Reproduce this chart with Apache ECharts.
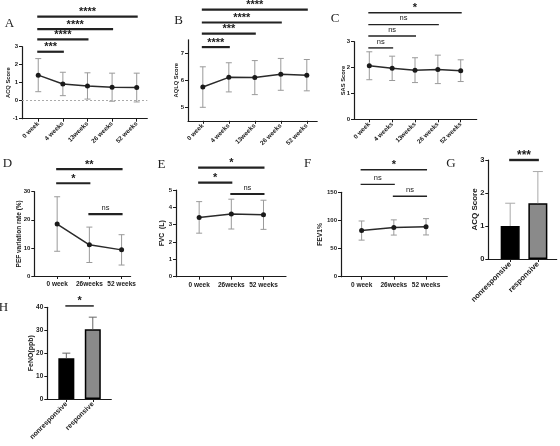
<!DOCTYPE html>
<html><head><meta charset="utf-8">
<script src="https://cdn.jsdelivr.net/npm/echarts@6/dist/echarts.min.js"></script>
<style>html,body{margin:0;padding:0;background:#fff}#c{width:560px;height:446px}</style>
</head><body><div id="c"></div>
<script>
// ---------- categories ----------
const weekLabels5 = ['0 week', '4 weeks', '13weeks', '26 weeks', '52 weeks'];
const weekLabels3 = ['0 week', '26weeks', '52 weeks'];
const groupLabels = ['nonresponsive', 'responsive'];

// ---------- series values (mean, SD) ----------
const acqMean = [1.42, 0.93, 0.82, 0.75, 0.73];
const acqSD = [0.92, 0.65, 0.73, 0.78, 0.80];
const aqlqMean = [5.75, 6.11, 6.10, 6.22, 6.19];
const aqlqSD = [0.75, 0.54, 0.63, 0.59, 0.58];
const sasMean = [2.07, 1.97, 1.90, 1.93, 1.88];
const sasSD = [0.54, 0.47, 0.48, 0.55, 0.42];
const pefMean = [18.5, 11.1, 9.3];
const pefSD = [9.7, 6.3, 5.4];
const fvcMean = [3.42, 3.61, 3.57];
const fvcSD = [0.91, 0.86, 0.84];
const fev1Mean = [82, 87.5, 88.7];
const fev1SD = [17, 13.5, 14.5];
const acqGroupMean = [1.0, 1.69];
const acqGroupSD = [0.69, 0.96];
const fenoMean = [17.8, 30.4];
const fenoSD = [2.2, 5.3];

// ---------- y tick labels ----------
const ticksA = [-1, 0, 1, 2, 3];
const ticksB = [5, 6, 7];
const ticksC = [0, 1, 2, 3];
const ticksD = [0, 10, 20, 30];
const ticksE = [0, 1, 2, 3, 4, 5];
const ticksF = [0, 50, 100, 150];
const ticksG = [0, 1, 2, 3];
const ticksH = [0, 10, 20, 30, 40];

// ---------- significance comparisons [from, to, bracket level (data units), label] ----------
const sigA = [[0, 1, 2.72, '***'], [0, 2, 3.41, '****'], [0, 3, 3.98, '****'], [0, 4, 4.67, '****']];
const sigB = [[0, 1, 7.23, '****'], [0, 2, 7.73, '***'], [0, 3, 8.14, '****'], [0, 4, 8.62, '****']];
const sigC = [[0, 1, 2.76, 'ns'], [0, 2, 3.22, 'ns'], [0, 3, 3.66, 'ns'], [0, 4, 4.12, '*']];
const sigD = [[0, 1, 33, '*'], [0, 2, 38, '**'], [1, 2, 22, 'ns']];
const sigE = [[0, 1, 5.42, '*'], [0, 2, 6.29, '*'], [1, 2, 4.77, 'ns']];
const sigF = [[0, 1, 164, 'ns'], [0, 2, 190, '*'], [1, 2, 143, 'ns']];
const sigG = [[0, 1, 3.0, '***']];
const sigH = [[0, 1, 40.6, '*']];

// ---------- build ----------
const FONT = '"Liberation Sans", Arial, sans-serif';
const INK = '#1a1a1a';

const panels = [
  { letter: 'A', lx: 9.5, ly: 23.5, kind: 'line', cats: weekLabels5, mean: acqMean, sd: acqSD, ticks: ticksA, sig: sigA,
    grid: { left: 22, top: 46.7, width: 125.3, height: 72 }, xr: [-0.66, 4.43], yr: [-1, 3],
    rot: 45, xfs: 6.3, yfs: 6, name: 'ACQ Score', nameGap: 11, nfs: 5.8, sigW: 2.2, sigFs: 11, cap: 3, zero: true },
  { letter: 'B', lx: 178.5, ly: 20.5, kind: 'line', cats: weekLabels5, mean: aqlqMean, sd: aqlqSD, ticks: ticksB, sig: sigB,
    grid: { left: 188, top: 39.8, width: 129.2, height: 81 }, xr: [-0.57, 4.4], yr: [4.5, 7.5],
    rot: 45, xfs: 6.3, yfs: 6, name: 'AQLQ Score', nameGap: 9, nfs: 5.8, sigW: 2.2, sigFs: 11, cap: 3 },
  { letter: 'C', lx: 335, ly: 19, kind: 'line', cats: weekLabels5, mean: sasMean, sd: sasSD, ticks: ticksC, sig: sigC,
    grid: { left: 354, top: 41.7, width: 122.7, height: 77.6 }, xr: [-0.67, 4.7], yr: [0, 3],
    rot: 45, xfs: 6.3, yfs: 6, name: 'SAS Score', nameGap: 8, nfs: 5.8, sigW: 1.4, sigFs: 11, cap: 3 },
  { letter: 'D', lx: 7.5, ly: 164, kind: 'line', cats: weekLabels3, mean: pefMean, sd: pefSD, ticks: ticksD, sig: sigD,
    grid: { left: 34.3, top: 191.7, width: 96.3, height: 84.3 }, xr: [-0.71, 2.28], yr: [0, 30],
    rot: 0, xfs: 6.5, yfs: 6, name: 'PEF variation rate (%)', nameGap: 11.5, nfs: 6.5, sigW: 2.2, sigFs: 11, cap: 3 },
  { letter: 'E', lx: 161.5, ly: 164.5, kind: 'line', cats: weekLabels3, mean: fvcMean, sd: fvcSD, ticks: ticksE, sig: sigE,
    grid: { left: 176, top: 190, width: 110, height: 86.7 }, xr: [-0.72, 2.7], yr: [0, 5],
    rot: 0, xfs: 6.5, yfs: 6, name: 'FVC  (L)', nameGap: 10.5, nfs: 6.8, sigW: 2.2, sigFs: 11, cap: 3 },
  { letter: 'F', lx: 307.5, ly: 164, kind: 'line', cats: weekLabels3, mean: fev1Mean, sd: fev1SD, ticks: ticksF, sig: sigF,
    grid: { left: 341, top: 192.3, width: 106.3, height: 84.4 }, xr: [-0.64, 2.66], yr: [0, 150],
    rot: 0, xfs: 6.5, yfs: 6, name: 'FEV1%', nameGap: 17, nfs: 6.8, sigW: 1.4, sigFs: 11, cap: 3 },
  { letter: 'G', lx: 451, ly: 164, kind: 'bar', cats: groupLabels, mean: acqGroupMean, sd: acqGroupSD, ticks: ticksG, sig: sigG,
    grid: { left: 488.3, top: 160, width: 68.4, height: 99 }, xr: [-0.79, 1.68], yr: [0, 3],
    rot: 45, xfs: 7.5, yfs: 7.5, name: 'ACQ Score', nameGap: 9.5, nfs: 8, sigW: 2.4, sigFs: 12, cap: 5, barW: 19, errColor: '#aaaaaa' },
  { letter: 'H', lx: 3.5, ly: 308, kind: 'bar', cats: groupLabels, mean: fenoMean, sd: fenoSD, ticks: ticksH, sig: sigH,
    grid: { left: 47.3, top: 307.3, width: 64, height: 91.7 }, xr: [-0.72, 1.7], yr: [0, 40],
    rot: 45, xfs: 7, yfs: 6.5, name: 'FeNO(ppb)', nameGap: 12.5, nfs: 7, sigW: 1.5, sigFs: 11, cap: 4, barW: 16, errColor: '#666666' }
];

const barColors = ['#000000', '#8a8a8a'];

function errSeries(gi, mean, sd, capHalf, color, upOnly) {
  return {
    type: 'custom', xAxisIndex: gi, yAxisIndex: gi, clip: false, silent: true, z: upOnly ? 4 : 2,
    data: mean.map((m, i) => [i, m, sd[i]]),
    encode: { x: 0, y: 1 },
    renderItem(params, api) {
      const x = api.value(0), m = api.value(1), s = api.value(2);
      const top = api.coord([x, m + s]);
      const bot = api.coord([x, upOnly ? m : m - s]);
      const st = { stroke: color, lineWidth: 1 };
      const ch = [
        { type: 'line', shape: { x1: top[0], y1: top[1], x2: bot[0], y2: bot[1] }, style: st },
        { type: 'line', shape: { x1: top[0] - capHalf, y1: top[1], x2: top[0] + capHalf, y2: top[1] }, style: st }
      ];
      if (!upOnly) ch.push({ type: 'line', shape: { x1: bot[0] - capHalf, y1: bot[1], x2: bot[0] + capHalf, y2: bot[1] }, style: st });
      return { type: 'group', children: ch };
    }
  };
}

function sigSeries(gi, sig, lw, fs) {
  return {
    type: 'custom', xAxisIndex: gi, yAxisIndex: gi, clip: false, silent: true, z: 6,
    data: sig.map(s => [s[0], s[1], s[2]]),
    encode: { x: [0, 1], y: 2 },
    renderItem(params, api) {
      const a = api.coord([api.value(0), api.value(2)]);
      const b = api.coord([api.value(1), api.value(2)]);
      const txt = sig[params.dataIndex][3];
      const ns = txt === 'ns';
      return {
        type: 'group', children: [
          { type: 'line', shape: { x1: a[0] - 1, y1: a[1], x2: b[0] + 1, y2: a[1] }, style: { stroke: '#222', lineWidth: lw } },
          { type: 'text', x: (a[0] + b[0]) / 2, y: a[1] - (ns ? 6.3 : 4.5),
            style: { text: txt, align: 'center', verticalAlign: 'middle', textAlign: 'center', textVerticalAlign: 'middle',
              font: (ns ? 'normal ' : 'bold ') + (ns ? 7.5 : fs) + 'px ' + FONT, fill: INK } }
        ]
      };
    }
  };
}

const grids = [], xAxes = [], yAxes = [], series = [], graphics = [];
panels.forEach((p, gi) => {
  grids.push(Object.assign({ containLabel: false, outerBoundsMode: 'none' }, p.grid));
  const idx = p.cats.map((_, i) => i);
  xAxes.push({
    type: 'value', gridIndex: gi, min: p.xr[0], max: p.xr[1],
    axisLine: { show: true, onZero: false, lineStyle: { color: INK, width: 1.2 } },
    axisTick: { show: true, customValues: idx, length: 3, lineStyle: { color: INK, width: 1 } },
    axisLabel: { show: true, customValues: idx, formatter: v => p.cats[Math.round(v)] || '', rotate: p.rot,
      fontSize: p.xfs, fontWeight: 'bold', color: INK, fontFamily: FONT, margin: p.rot ? 4 : 5 },
    splitLine: { show: false }
  });
  yAxes.push({
    type: 'value', gridIndex: gi, min: p.yr[0], max: p.yr[1],
    axisLine: { show: true, onZero: false, lineStyle: { color: INK, width: 1.2 } },
    axisTick: { show: true, customValues: p.ticks, length: 3, lineStyle: { color: INK, width: 1 } },
    axisLabel: { show: true, customValues: p.ticks, fontSize: p.yfs, fontWeight: 'bold', color: INK, fontFamily: FONT, margin: 4 },
    splitLine: { show: false },
    name: p.name, nameLocation: 'middle', nameRotate: 90, nameGap: p.nameGap, nameMoveOverlap: false,
    nameTextStyle: { fontSize: p.nfs, fontWeight: 'bold', color: INK, fontFamily: FONT }
  });
  if (p.kind === 'line') {
    series.push(errSeries(gi, p.mean, p.sd, p.cap, '#9a9a9a', false));
    const ls = {
      type: 'line', xAxisIndex: gi, yAxisIndex: gi, z: 3, silent: true, animation: false,
      data: p.mean.map((m, i) => [i, m]),
      symbol: 'circle', symbolSize: 5, showSymbol: true,
      itemStyle: { color: INK }, lineStyle: { color: '#2a2a2a', width: 1.5 }
    };
    if (p.zero) {
      ls.markLine = { silent: true, symbol: 'none', animation: false, label: { show: false },
        lineStyle: { type: [2, 2], color: '#aaaaaa', width: 1 }, data: [{ yAxis: 0 }] };
    }
    series.push(ls);
  } else {
    series.push({
      type: 'bar', xAxisIndex: gi, yAxisIndex: gi, z: 3, silent: true, barWidth: p.barW,
      data: p.mean.map((m, i) => ({ value: [i, m], itemStyle: { color: barColors[i], borderColor: '#000', borderWidth: 1.5 } }))
    });
    series.push(errSeries(gi, p.mean, p.sd, p.cap, p.errColor, true));
  }
  series.push(sigSeries(gi, p.sig, p.sigW, p.sigFs));
  graphics.push({ type: 'text', x: p.lx, y: p.ly,
    style: { text: p.letter, font: '13px "Liberation Serif", "Times New Roman", serif', fill: '#222',
      align: 'center', verticalAlign: 'middle', textAlign: 'center', textVerticalAlign: 'middle' } });
});

const chart = echarts.init(document.getElementById('c'), null, { renderer: 'canvas' });
chart.setOption({
  animation: false,
  backgroundColor: '#ffffff',
  grid: grids, xAxis: xAxes, yAxis: yAxes, series: series,
  graphic: graphics
});
</script>
</body></html>
